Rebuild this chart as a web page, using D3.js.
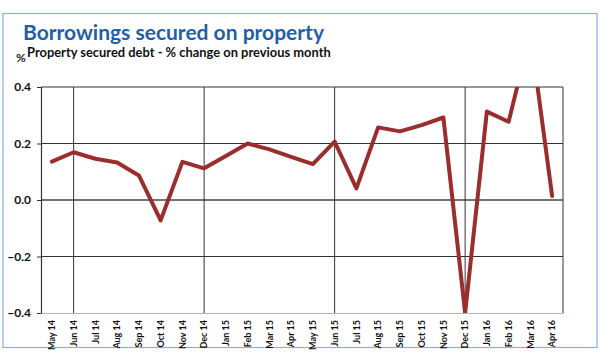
<!DOCTYPE html>
<html>
<head>
<meta charset="utf-8">
<script src="https://cdn.jsdelivr.net/npm/d3@7/dist/d3.min.js"></script>
<style>
html,body{margin:0;padding:0;background:#fff;}
svg{display:block;}
</style>
</head>
<body>
<svg id="chart" width="600" height="359"></svg>
<script>
const months = ["May 14","Jun 14","Jul 14","Aug 14","Sep 14","Oct 14","Nov 14","Dec 14",
  "Jan 15","Feb 15","Mar 15","Apr 15","May 15","Jun 15","Jul 15","Aug 15","Sep 15","Oct 15",
  "Nov 15","Dec 15","Jan 16","Feb 16","Mar 16","Apr 16"];
const changes = [0.136,0.169,0.146,0.133,0.087,-0.072,0.135,0.112,
  0.156,0.200,0.179,0.153,0.127,0.207,0.041,0.257,0.243,0.265,
  0.292,-0.40,0.313,0.277,0.59,0.014];
const yTicks = [-0.4,-0.2,0.0,0.2,0.4];
const vGridMonths = ["Jun 14","Dec 14","Jun 15","Dec 15"];
const titleText = "Borrowings secured on property";
const subtitleText = "Property secured debt - % change on previous month";
const unitText = "%";

const svg = d3.select("#chart");
const L = 41, R = 563, T = 87, B = 313;

// frame
svg.append("rect").attr("x",3).attr("y",13.5).attr("width",594).attr("height",334)
  .attr("fill","none").attr("stroke","#8AAEE0").attr("stroke-width",1.2);

svg.append("text").attr("x",23).attr("y",40).text(titleText)
  .attr("font-family","Lato, 'Open Sans', sans-serif").attr("font-weight","bold")
  .attr("font-size",21).attr("fill","#1F5FA8");
svg.append("text").attr("x",27).attr("y",57).text(subtitleText)
  .attr("font-family","Lato, 'Open Sans', sans-serif").attr("font-weight","bold")
  .attr("font-size",12.9).attr("fill","#111");
svg.append("text").attr("x",16).attr("y",62).text(unitText)
  .attr("font-family","Lato, 'Open Sans', sans-serif").attr("font-weight","bold")
  .attr("font-size",12).attr("fill","#222");

const x = d3.scaleBand().domain(months).range([L,R]).padding(0);
const y = d3.scaleLinear().domain([-0.4,0.4]).range([B,T]);
const cx = d => x(d) + x.bandwidth()/2;

// horizontal gridlines
svg.append("g").selectAll("line").data(yTicks.filter(v=>v>-0.4)).join("line")
  .attr("x1",L).attr("x2",R).attr("y1",d=>y(d)).attr("y2",d=>y(d))
  .attr("stroke",d=>d===0?"#444":"#333").attr("stroke-width",d=>d===0?1.6:1);

// vertical gridlines
svg.append("g").selectAll("line").data(vGridMonths).join("line")
  .attr("x1",d=>cx(d)).attr("x2",d=>cx(d)).attr("y1",T).attr("y2",B)
  .attr("stroke","#333").attr("stroke-width",1);

// right border
svg.append("line").attr("x1",R).attr("x2",R).attr("y1",T).attr("y2",B)
  .attr("stroke","#333").attr("stroke-width",1);

// y axis
const yAxis = svg.append("g").attr("transform",`translate(${L},0)`)
  .call(d3.axisLeft(y).tickValues(yTicks).tickFormat(d3.format(".1f")).tickSize(4).tickPadding(6));
yAxis.select(".domain").attr("stroke","#333").attr("stroke-width",1.2);
yAxis.selectAll(".tick line").attr("stroke","#333");
yAxis.selectAll("text").attr("font-family","Lato, 'Open Sans', sans-serif")
  .attr("font-weight","bold").attr("font-size",12).attr("fill","#111");

// x axis
const xAxis = svg.append("g").attr("transform",`translate(0,${B})`)
  .call(d3.axisBottom(x).tickSize(0).tickPadding(0));
xAxis.select(".domain").attr("stroke","#E8A2A2").attr("stroke-width",1.2);
xAxis.selectAll("text")
  .attr("font-family","Lato, 'Open Sans', sans-serif").attr("font-weight","bold")
  .attr("font-size",9).attr("fill","#111")
  .attr("transform","rotate(-90)").attr("text-anchor","end")
  .attr("x",-7).attr("y",0).attr("dy","0.35em");

// clip
svg.append("clipPath").attr("id","clip").append("rect")
  .attr("x",L).attr("y",T).attr("width",R-L).attr("height",B-T);

const line = d3.line().x((d,i)=>cx(months[i])).y(d=>y(d));
svg.append("path").datum(changes).attr("clip-path","url(#clip)")
  .attr("d",line).attr("fill","none").attr("stroke","#9B2D2D")
  .attr("stroke-width",4).attr("stroke-linejoin","round").attr("stroke-linecap","round");
</script>
</body>
</html>
